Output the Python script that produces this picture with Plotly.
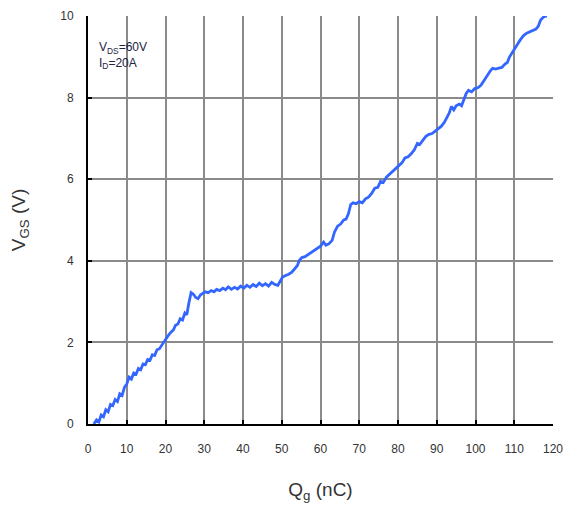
import plotly.graph_objects as go

# Gate charge curve: Qg (nC) vs VGS (V)
qg_nc = [1.5, 2.2, 2.8, 3.4, 4.0, 4.6, 5.2, 5.8, 6.4, 7.0, 7.6, 8.2, 8.8, 9.4, 10.0,
         10.6, 11.2, 11.8, 12.4, 13.0, 13.6, 14.2, 14.8, 15.4, 16.0, 16.6, 17.2, 17.8,
         18.4, 19.0, 19.6, 20.2, 20.8, 21.4, 22.0, 22.6, 23.2, 23.8, 24.4, 25.0, 25.5,
         26.0, 26.6, 27.2, 27.8, 28.4, 29.0, 29.6, 30.2, 31.0, 31.8, 32.5, 33.2, 34.0,
         34.8, 35.5, 36.2, 37.0, 37.8, 38.6, 39.4, 40.2, 41.0, 41.8, 42.6, 43.4, 44.2,
         45.0, 45.8, 46.6, 47.4, 48.2, 49.0, 49.6, 50.2, 51.0, 51.8, 52.6, 53.4, 54.0,
         54.6, 55.2, 56.0, 56.8, 57.6, 58.4, 59.2, 60.0, 60.8, 61.4, 62.2, 63.0, 63.6,
         64.4, 65.2, 66.0, 66.6, 67.2, 67.8, 68.4, 69.2, 70.0, 70.8, 71.6, 72.4, 73.2,
         74.0, 74.8, 75.5, 76.2, 77.0, 77.8, 78.6, 79.4, 80.2, 81.0, 81.8, 82.6, 83.4,
         84.2, 85.0, 85.6, 86.4, 87.2, 88.0, 88.8, 89.6, 90.4, 91.2, 92.0, 92.6, 93.2,
         93.8, 94.4, 95.0, 95.8, 96.4, 97.0, 97.6, 98.2, 99.0, 99.8, 100.6, 101.4, 102.2,
         103.0, 103.8, 104.4, 105.2, 106.0, 106.8, 107.6, 108.2, 108.8, 109.4, 110.0,
         110.8, 111.6, 112.4, 113.2, 114.0, 114.8, 115.6, 116.2, 116.8, 117.6, 118.4]
vgs_v = [0.0, 0.10, 0.05, 0.22, 0.18, 0.35, 0.30, 0.48, 0.45, 0.60, 0.55, 0.74, 0.70, 0.90, 0.98,
         1.15, 1.10, 1.25, 1.22, 1.36, 1.33, 1.47, 1.45, 1.58, 1.56, 1.70, 1.68, 1.82,
         1.84, 1.93, 2.00, 2.12, 2.18, 2.25, 2.30, 2.42, 2.45, 2.58, 2.55, 2.72, 2.68,
         2.95, 3.22, 3.18, 3.10, 3.07, 3.16, 3.20, 3.24, 3.22, 3.27, 3.24, 3.30, 3.27,
         3.33, 3.29, 3.36, 3.30, 3.35, 3.31, 3.38, 3.33, 3.40, 3.35, 3.42, 3.37, 3.45,
         3.39, 3.44, 3.38, 3.47, 3.42, 3.40, 3.50, 3.60, 3.64, 3.67, 3.72, 3.80, 3.88,
         4.02, 4.08, 4.10, 4.15, 4.20, 4.25, 4.30, 4.36, 4.46, 4.38, 4.42, 4.50, 4.70,
         4.85, 4.90, 5.00, 5.02, 5.15, 5.38, 5.42, 5.40, 5.45, 5.42, 5.52, 5.56, 5.65,
         5.78, 5.80, 5.95, 5.92, 6.05, 6.12, 6.20, 6.28, 6.34, 6.40, 6.52, 6.55, 6.62,
         6.72, 6.88, 6.85, 6.95, 7.05, 7.10, 7.12, 7.18, 7.24, 7.30, 7.40, 7.50, 7.62,
         7.78, 7.70, 7.80, 7.84, 7.80, 7.98, 8.10, 8.18, 8.14, 8.22, 8.24, 8.30, 8.42,
         8.55, 8.65, 8.72, 8.70, 8.72, 8.74, 8.82, 8.86, 9.00, 9.10, 9.20,
         9.30, 9.42, 9.52, 9.58, 9.62, 9.64, 9.68, 9.75, 9.90, 9.98, 10.0]

x_ticks = list(range(0, 121, 10))
y_ticks = list(range(0, 11, 2))

FONT = "Liberation Sans, Arial, sans-serif"
GRID = "#8a8a8a"
TEXT = "#333333"

fig = go.Figure()
fig.add_trace(go.Scatter(
    x=qg_nc, y=vgs_v, mode="lines",
    line=dict(color="#3366ff", width=2.8),
    showlegend=False, hoverinfo="skip",
))

axis_common = dict(
    showgrid=True, gridcolor=GRID, gridwidth=1.5,
    showline=True, linecolor="black", linewidth=2, mirror=False,
    ticks="inside", ticklen=4, tickcolor="black", tickwidth=1.5,
    tickfont=dict(size=12, color=TEXT),
    zeroline=False, automargin=False,
)

fig.update_layout(
    width=567, height=505,
    margin=dict(l=88, r=14, t=16, b=81),
    paper_bgcolor="white", plot_bgcolor="white",
    font=dict(family=FONT, color=TEXT),
    xaxis=dict(
        range=[0, 120], tickvals=x_ticks, ticktext=[str(v) for v in x_ticks],
        ticklabelstandoff=13,
        title=dict(text="Q<sub>g</sub> (nC)", font=dict(size=19, color=TEXT), standoff=27),
        **axis_common,
    ),
    yaxis=dict(
        range=[0, 10], tickvals=y_ticks, ticktext=[str(v) for v in y_ticks],
        ticklabelstandoff=10,
        title=dict(text="V<sub>GS</sub> (V)", font=dict(size=19, color=TEXT), standoff=30),
        **axis_common,
    ),
    annotations=[dict(
        x=0.02, y=0.945, xref="paper", yref="paper", xanchor="left", yanchor="top",
        text="V<sub>DS</sub>=60V<br>I<sub>D</sub>=20A", showarrow=False, align="left",
        font=dict(size=12, color="#222244", family=FONT),
    )],
)

fig.write_html("out.html")
